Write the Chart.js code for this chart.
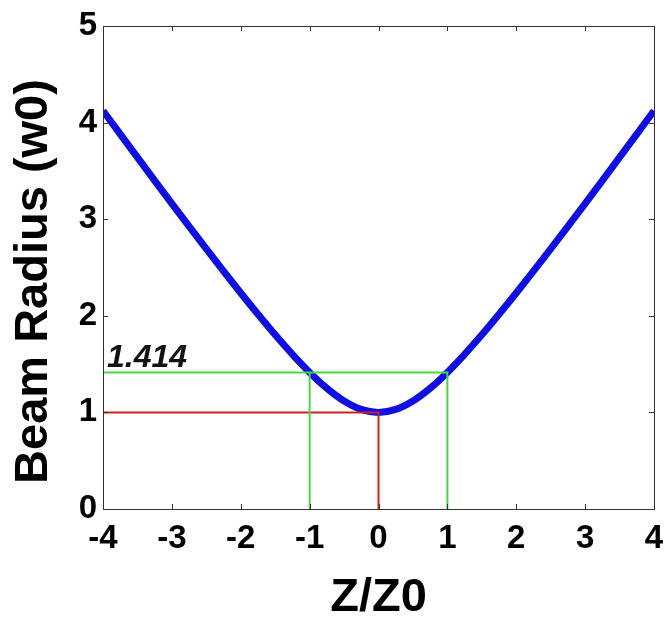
<!DOCTYPE html>
<html>
<head>
<meta charset="utf-8">
<script src="https://cdn.jsdelivr.net/npm/chart.js@4"></script>
<style>
  html, body { margin: 0; padding: 0; background: #fff; }
  canvas { display: block; }
</style>
</head>
<body>
<canvas id="beamChart" width="666" height="626"></canvas>
<script>
// beam radius curve
const zValues = [-4, -3.75, -3.5, -3.25, -3, -2.75, -2.5, -2.25, -2, -1.75, -1.5, -1.25, -1, -0.75, -0.5, -0.25,
    0, 0.25, 0.5, 0.75, 1, 1.25, 1.5, 1.75, 2, 2.25, 2.5, 2.75, 3, 3.25, 3.5, 3.75, 4];
const radiusValues = [4.123, 3.881, 3.640, 3.400, 3.162, 2.926, 2.693, 2.462, 2.236, 2.016, 1.803, 1.601, 1.414, 1.250, 1.118, 1.031,
    1.000, 1.031, 1.118, 1.250, 1.414, 1.601, 1.803, 2.016, 2.236, 2.462, 2.693, 2.926, 3.162, 3.400, 3.640, 3.881, 4.123];

// guide lines (null = gap)
const greenX = [-4, 1, 1, null, -1, -1];
const greenY = [1.414, 1.414, 0, null, 0, 1.414];
const redX = [-4, 0, 0];
const redY = [1, 1, 0];

const xTicks = [-4, -3, -2, -1, 0, 1, 2, 3, 4];
const yTicks = [0, 1, 2, 3, 4, 5];
const markLabel = '1.414';
const markValue = 1.414;
const yTitle = 'Beam Radius (w0)';

const toPoints = (xs, ys) => xs.map((x, i) => (x === null ? { x: null, y: null } : { x: x, y: ys[i] }));

const FONT = 'Liberation Sans, Arial, sans-serif';

// frame, inward ticks, the 1.414 label and the y title
const framePlugin = {
    id: 'frame',
    afterDatasetsDraw(chart) {
        const ctx = chart.ctx;
        const a = chart.chartArea;
        const xs = chart.scales.x, ys = chart.scales.y;
        ctx.save();
        ctx.strokeStyle = '#333';
        ctx.lineWidth = 1;
        ctx.strokeRect(a.left + 0.5, a.top + 0.5, a.right - a.left, a.bottom - a.top);
        ctx.beginPath();
        xTicks.forEach(v => {
            const px = Math.round(xs.getPixelForValue(v)) + 0.5;
            ctx.moveTo(px, a.bottom); ctx.lineTo(px, a.bottom - 5);
            ctx.moveTo(px, a.top); ctx.lineTo(px, a.top + 5);
        });
        yTicks.forEach(v => {
            const py = Math.round(ys.getPixelForValue(v)) + 0.5;
            ctx.moveTo(a.left, py); ctx.lineTo(a.left + 5, py);
            ctx.moveTo(a.right, py); ctx.lineTo(a.right - 5, py);
        });
        ctx.stroke();

        ctx.fillStyle = '#111';
        ctx.font = 'italic bold 32px ' + FONT;
        ctx.textBaseline = 'alphabetic';
        ctx.textAlign = 'left';
        ctx.fillText(markLabel, xs.getPixelForValue(-4) + 4, ys.getPixelForValue(markValue) - 5);

        // y title, sits a bit below the axis middle like the original
        ctx.fillStyle = '#000';
        ctx.font = 'bold 47px ' + FONT;
        ctx.textAlign = 'center';
        ctx.textBaseline = 'middle';
        ctx.translate(34, (a.top + a.bottom) / 2 + 14);
        ctx.rotate(-Math.PI / 2);
        ctx.fillText(yTitle, 0, 0);
        ctx.restore();
    }
};

new Chart(document.getElementById('beamChart'), {
    type: 'scatter',
    data: {
        datasets: [{
            label: 'green',
            data: toPoints(greenX, greenY),
            showLine: true,
            borderColor: 'rgb(70, 215, 70)',
            borderWidth: 2,
            pointRadius: 0,
            spanGaps: false,
            order: 0
        }, {
            label: 'red',
            data: toPoints(redX, redY),
            showLine: true,
            borderColor: 'rgb(205, 35, 35)',
            borderWidth: 2,
            pointRadius: 0,
            order: 1
        }, {
            label: 'Beam Radius',
            data: toPoints(zValues, radiusValues),
            showLine: true,
            borderColor: 'rgb(15, 15, 225)',
            borderWidth: 7,
            pointRadius: 0,
            cubicInterpolationMode: 'monotone',
            order: 2
        }]
    },
    options: {
        responsive: false,
        devicePixelRatio: 1,
        animation: false,
        layout: { padding: { top: 26, right: 0, left: 0, bottom: 0 } },
        plugins: { legend: { display: false }, tooltip: { enabled: false } },
        scales: {
            x: {
                type: 'linear',
                min: -4,
                max: 4,
                afterFit: s => { s.height = 117; s.paddingRight = 12; s.paddingLeft = 0; },
                afterBuildTicks: s => { s.ticks = xTicks.map(v => ({ value: v })); },
                grid: { display: false, drawTicks: false },
                border: { display: false },
                ticks: { color: '#000', padding: 10, font: { family: FONT, size: 33, weight: 'bold' } },
                title: {
                    display: true,
                    text: 'Z/Z0',
                    color: '#000',
                    padding: { top: 0, bottom: 0 },
                    font: { family: FONT, size: 47, weight: 'bold' }
                }
            },
            y: {
                type: 'linear',
                min: 0,
                max: 5,
                afterFit: s => { s.width = 103; },
                afterBuildTicks: s => { s.ticks = yTicks.map(v => ({ value: v })); },
                grid: { display: false, drawTicks: false },
                border: { display: false },
                ticks: { color: '#000', padding: 6, font: { family: FONT, size: 33, weight: 'bold' } }
            }
        }
    },
    plugins: [framePlugin]
});
</script>
</body>
</html>
